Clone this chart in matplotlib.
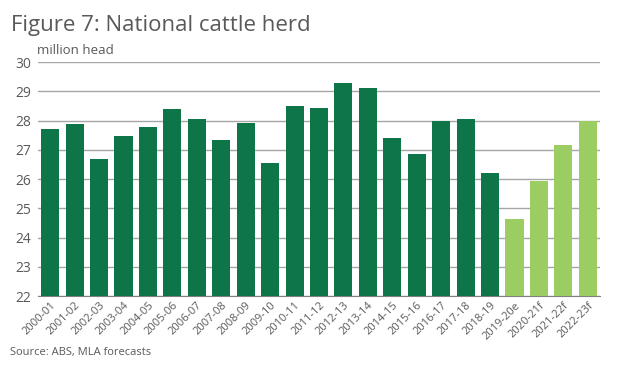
import numpy as np
import matplotlib
matplotlib.use('Agg')
import matplotlib.pyplot as plt

plt.rcParams['font.family'] = ['Open Sans', 'DejaVu Sans']

years = ['2000-01', '2001-02', '2002-03', '2003-04', '2004-05', '2005-06', '2006-07',
         '2007-08', '2008-09', '2009-10', '2010-11', '2011-12', '2012-13', '2013-14',
         '2014-15', '2015-16', '2016-17', '2017-18', '2018-19', '2019-20e', '2020-21f',
         '2021-22f', '2022-23f']
herd = [27.71, 27.88, 26.69, 27.47, 27.77, 28.39, 28.05, 27.33, 27.91, 26.54, 28.49,
        28.42, 29.28, 29.11, 27.40, 26.85, 27.99, 28.05, 26.20, 24.62, 25.92, 27.16, 27.97]
forecast = [False] * 19 + [True] * 4

dark = '#0d7548'
light = '#9ccd63'
colors = [light if f else dark for f in forecast]

fig = plt.figure(figsize=(6.33, 3.74), dpi=100)
ax = fig.add_axes([38 / 633, 1 - 296 / 374, (600 - 38) / 633, (296 - 62) / 374])

x = np.arange(len(years))
ax.bar(x, np.array(herd) - 22, bottom=22, width=0.74, color=colors, zorder=3)

ax.set_ylim(22, 30)
ax.set_xlim(-0.5, len(years) - 0.5)
ax.set_yticks(range(22, 31))
ax.yaxis.grid(True, color='#a6a6a6', linewidth=1, zorder=0)
ax.set_xticks(x)
ax.set_xticklabels(years, rotation=45, ha='right', rotation_mode='anchor', fontsize=8, color='#595959')
ax.tick_params(axis='y', length=0, labelsize=10, colors='#595959', pad=5)
ax.tick_params(axis='x', length=0, pad=3)
for s in ['top', 'right', 'left']:
    ax.spines[s].set_visible(False)
ax.spines['bottom'].set_color('#808080')

fig.text(11 / 633, 1 - 25 / 374, 'Figure 7: National cattle herd', fontsize=16, color='#595959', va='center')
fig.text(37 / 633, 1 - 50 / 374, 'million head', fontsize=9.5, color='#595959', va='center')
fig.text(10 / 633, 1 - 353 / 374, 'Source: ABS, MLA forecasts', fontsize=8, color='#595959', va='center')

plt.savefig('out.png', dpi=100)
